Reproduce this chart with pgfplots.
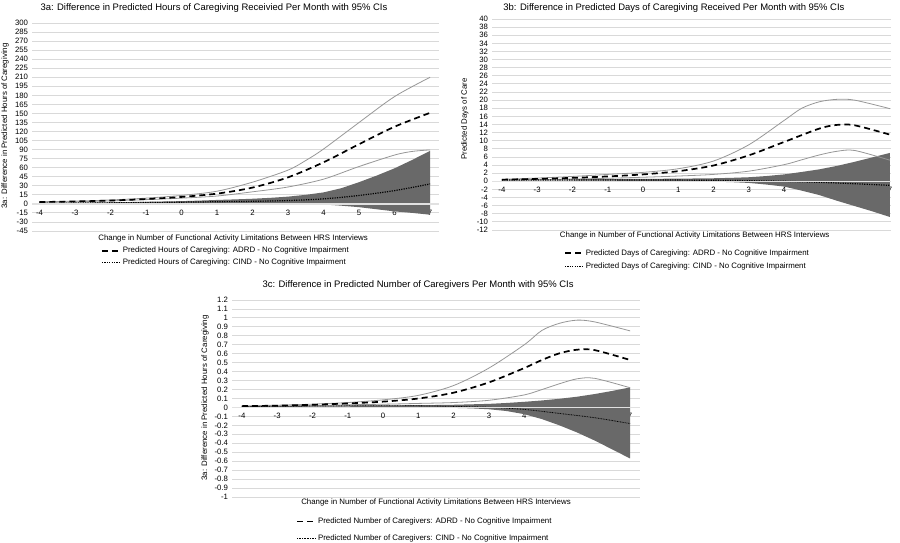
\documentclass[border=0pt]{standalone}
\usepackage{fontspec}
\setmainfont{Liberation Sans}
\usepackage{pgfplots}
\pgfplotsset{compat=1.18}

\definecolor{gridgray}{RGB}{217,217,217}
\definecolor{cigray}{RGB}{150,150,150}
\definecolor{bandgray}{RGB}{105,105,105}
\definecolor{zerogray}{RGB}{225,225,225}

\pgfplotsset{
  layers/labelsontop/.define layer set={axis background,axis grid,axis ticks,axis lines,pre main,main,axis tick labels,axis descriptions,axis foreground}{},
  panel/.style={
    set layers=labelsontop,
    scale only axis,
    axis x line=middle, axis y line=left,
    axis line style={draw=none},
    major tick length=0pt,
    ymajorgrids,
    grid style={gridgray, line width=0.9bp},
    xtick={-4,...,7},
    tick label style={font=\fontsize{7.8}{9}\selectfont},
    /pgf/number format/assume math mode=true,
    xticklabel style={anchor=north, yshift=-2.5bp},
    yticklabel style={anchor=east, xshift=-0.5bp},
    label style={font=\fontsize{7.9}{9.5}\selectfont},
    title style={font=\fontsize{9.5}{11}\selectfont, anchor=center},
    ylabel style={anchor=center},
    xlabel style={anchor=center},
    legend style={draw=none, fill=none, font=\fontsize{7.9}{9.5}\selectfont,
      anchor=north west, legend cell align=left},
    legend image code/.code={\draw[#1] (0bp,0bp) -- (18bp,0bp);},
  },
  ci/.style={color=cigray, line width=0.8bp, smooth, forget plot},
  band/.style={fill=bandgray, draw=none, forget plot},
  adrd/.style={black, line width=1.7bp, dash pattern=on 6bp off 4bp, smooth},
  cind/.style={black, line width=1.2bp, dash pattern=on 1.2bp off 1.2bp, smooth},
}

\begin{document}
\begin{tikzpicture}

% ---------- 3a: hours ----------
\begin{axis}[panel,
  at={(32bp,312bp)}, anchor=south west,
  width=407bp, height=208bp,
  xmin=-4.21, xmax=7.25, ymin=-45, ymax=300,
  ytick={-45,-30,...,300},
  title={3a: Difference in Predicted Hours of Caregiving Receivied Per Month with 95\% CIs},
  title style={at={(axis description cs:0.447,1.043)}},
  xlabel={Change in Number of Functional Activity Limitations Between HRS Interviews},
  xlabel style={at={(axis description cs:0.494,-0.034)}},
  ylabel={3a: Difference in Predicted Hours of Caregiving},
  ylabel style={at={(axis description cs:-0.066,0.505)}},
  legend style={at={(axis description cs:0.162,-0.058)}, row sep=0.5bp},
]
% CIND 95% CI band: upper edge left to right, then lower edge back
\addplot[band] coordinates {(-4,1.5) (-3,2) (-2,2.6) (-1,3.4) (0,4.5) (0.5,5.4) (1,6.5) (1.5,7.4) (2,8.5) (2.5,10) (3,12) (3.5,15) (4,19) (4.5,26) (5,36) (5.5,47) (6,59) (6.5,73) (7,88)
  (7,-18) (6.5,-15) (6,-12.5) (5.5,-9) (5,-5.5) (4.5,-3) (4,-1) (3.5,0) (3,0.5) (2,1.2) (1,1.3) (0,1.2) (-1,1) (-2,0.8) (-3,0.6) (-4,0.5)};
\addplot[ci] coordinates {(-4,3.5) (-3,4.5) (-2,6.5) (-1,9.5) (0,14) (1,21) (2,36) (3,56) (3.5,72) (4,91) (5,135) (6,178) (7,210)};
\addplot[ci] coordinates {(-4,2.5) (-3,3.5) (-2,5) (-1,7) (0,9.5) (1,13) (2,20) (3,28) (4,41) (5,62) (6,81) (6.5,87) (7,89.5)};
\addplot[adrd] coordinates {(-4,3) (-3,4) (-2,5.5) (-1,8) (0,11.5) (1,17) (2,27) (3,44) (4,69) (5,99) (6,128) (7,151)};
\addlegendentry{Predicted Hours of Caregiving: ADRD - No Cognitive Impairment}
\addplot[cind] coordinates {(-4,1) (-3,1.3) (-2,1.7) (-1,2.2) (0,2.8) (1,3.5) (2,4.2) (3,5.5) (4,8.3) (5,14) (6,22) (7,33)};
\addlegendentry{Predicted Hours of Caregiving: CIND - No Cognitive Impairment}
\addplot[zerogray, line width=1.3bp, forget plot] coordinates {(-4.21,0) (7.25,0)};
\end{axis}

% ---------- 3b: days ----------
\begin{axis}[panel,
  at={(492bp,313bp)}, anchor=south west,
  width=399bp, height=211bp,
  xmin=-4.28, xmax=7.03, ymin=-12, ymax=40,
  ytick={-12,-10,...,40},
  title={3b: Difference in Predicted Days of Caregiving Received Per Month with 95\% CIs},
  title style={at={(axis description cs:0.456,1.024)}},
  xlabel={Change in Number of Functional Activity Limitations Between HRS Interviews},
  xlabel style={at={(axis description cs:0.508,-0.028)}},
  ylabel={Predicted Days of Care},
  ylabel style={at={(axis description cs:-0.068,0.526)}},
  legend style={at={(axis description cs:0.173,-0.072)}, row sep=2bp},
]
\addplot[band] coordinates {(-4,0.4) (-3,0.45) (-2,0.5) (-1,0.55) (0,0.6) (1,0.65) (2,0.75) (2.5,0.85) (3,1) (3.5,1.3) (4,1.7) (4.5,2.3) (5,2.95) (5.5,3.8) (6,4.8) (6.5,5.9) (7,7)
  (7,-8.8) (6.5,-7.4) (6,-6.1) (5.5,-4.8) (5,-3.4) (4.5,-2.3) (4,-1.3) (3.5,-0.8) (3,-0.4) (2.5,-0.2) (2,-0.1) (1,0) (0,0.1) (-1,0.15) (-2,0.2) (-3,0.2) (-4,0.2)};
\addplot[ci] coordinates {(-4,0.5) (-3,0.8) (-2,1.2) (-1,1.7) (0,2.2) (1,3.1) (2,5) (3,9) (4,15) (4.5,18) (5,19.6) (5.5,20.2) (6,20) (7,17.9)};
\addplot[ci] coordinates {(-4,0.3) (-3,0.4) (-2,0.55) (-1,0.75) (0,1) (1,1.3) (2,1.7) (3,2.5) (4,4.1) (4.5,5.3) (5,6.5) (5.5,7.4) (6,7.6) (7,5.2)};
\addplot[adrd] coordinates {(-4,0.4) (-3,0.6) (-2,0.85) (-1,1.2) (0,1.7) (1,2.5) (2,3.9) (3,6.4) (4,9.7) (5,13) (5.5,13.9) (6,13.8) (7,11.5)};
\addlegendentry{Predicted Days of Caregiving: ADRD - No Cognitive Impairment}
\addplot[cind] coordinates {(-4,0.3) (-3,0.32) (-2,0.33) (-1,0.33) (0,0.32) (1,0.3) (2,0.25) (3,0.15) (4,0) (5,-0.25) (6,-0.6) (7,-1)};
\addlegendentry{Predicted Days of Caregiving: CIND - No Cognitive Impairment}
\addplot[zerogray, line width=1.3bp, forget plot] coordinates {(-4.28,0) (7.03,0)};
\end{axis}

% ---------- 3c: caregivers ----------
\begin{axis}[panel,
  at={(232bp,46bp)}, anchor=south west,
  width=408bp, height=197bp,
  xmin=-4.28, xmax=7.28, ymin=-1, ymax=1.2,
  ytick={-1,-0.9,-0.8,-0.7,-0.6,-0.5,-0.4,-0.3,-0.2,-0.1,0,0.1,0.2,0.3,0.4,0.5,0.6,0.7,0.8,0.9,1,1.1,1.2},
  yticklabel style={/pgf/number format/fixed, /pgf/number format/precision=1},
  title={3c: Difference in Predicted Number of Caregivers Per Month with 95\% CIs},
  title style={at={(axis description cs:0.456,1.046)}},
  xlabel={Change in Number of Functional Activity Limitations Between HRS Interviews},
  xlabel style={at={(axis description cs:0.5,-0.030)}},
  ylabel={3a: Difference in Predicted Hours of Caregiving},
  ylabel style={at={(axis description cs:-0.066,0.503)}},
  legend style={at={(axis description cs:0.15,-0.085)}, row sep=6bp},
]
\addplot[band] coordinates {(-4,0.015) (-3,0.018) (-2,0.02) (-1,0.022) (0,0.024) (1,0.025) (2,0.03) (2.5,0.035) (3,0.04) (3.5,0.05) (4,0.063) (4.5,0.078) (5,0.097) (5.5,0.12) (6,0.15) (6.5,0.185) (7,0.224)
  (7,-0.57) (6.5,-0.47) (6,-0.37) (5.5,-0.28) (5,-0.2) (4.5,-0.13) (4,-0.075) (3.5,-0.04) (3,-0.02) (2.5,-0.01) (2,-0.005) (1,0.002) (0,0.006) (-1,0.008) (-2,0.008) (-3,0.007) (-4,0.005)};
\addplot[ci] coordinates {(-4,0.018) (-3,0.025) (-2,0.037) (-1,0.055) (0,0.085) (1,0.135) (2,0.245) (3,0.44) (4,0.7) (4.5,0.86) (5,0.94) (5.5,0.975) (6,0.955) (7,0.855)};
\addplot[ci] coordinates {(-4,0.01) (-3,0.015) (-2,0.02) (-1,0.03) (0,0.036) (1,0.045) (2,0.055) (3,0.08) (4,0.14) (4.5,0.2) (5,0.265) (5.5,0.32) (6,0.325) (7,0.22)};
\addplot[adrd] coordinates {(-4,0.015) (-3,0.02) (-2,0.03) (-1,0.045) (0,0.065) (1,0.1) (2,0.165) (3,0.28) (4,0.44) (4.5,0.53) (5,0.605) (5.5,0.645) (6,0.64) (7,0.53)};
\addlegendentry{Predicted Number of Caregivers: ADRD - No Cognitive Impairment}
\addplot[cind, line width=0.8bp, dash pattern=on 0.8bp off 0.8bp] coordinates {(-4,0.01) (-3,0.013) (-2,0.016) (-1,0.018) (0,0.02) (1,0.018) (2,0.012) (3,0.002) (4,-0.022) (5,-0.067) (6,-0.115) (7,-0.18)};
\addlegendentry{Predicted Number of Caregivers: CIND - No Cognitive Impairment}
\addplot[zerogray, line width=1.3bp, forget plot] coordinates {(-4.28,0) (7.28,0)};
\end{axis}

\pgfresetboundingbox
\path[use as bounding box] (0bp,0bp) rectangle (900bp,543bp);
\end{tikzpicture}
\end{document}
